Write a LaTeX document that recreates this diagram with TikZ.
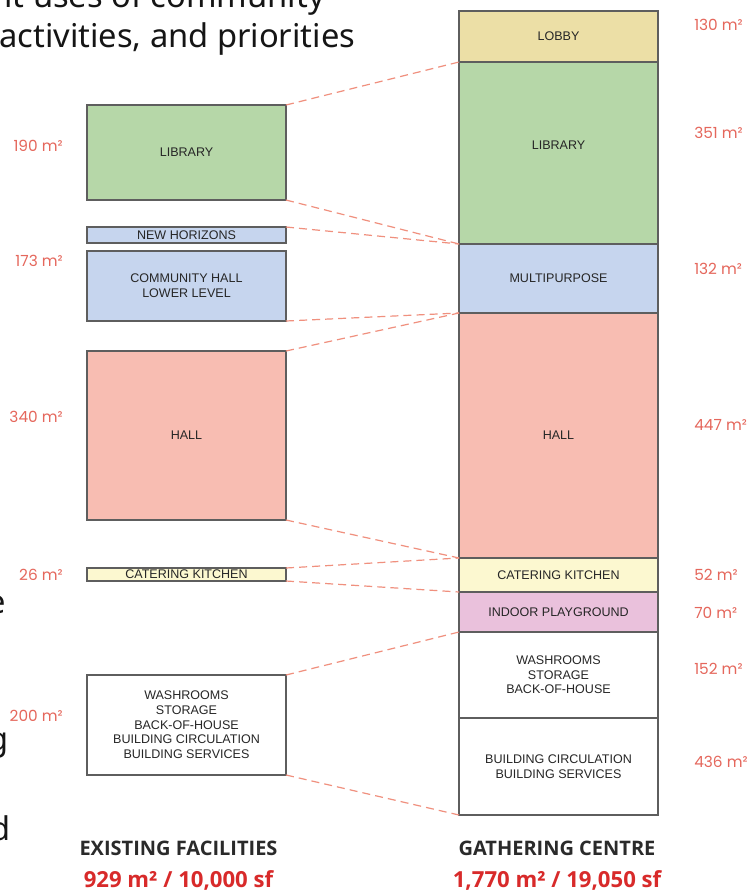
\documentclass[tikz,border=0pt]{standalone}
\usepackage{fontspec}
\setmainfont{Liberation Sans}
\newfontfamily\labfont{Poppins}
\newfontfamily\bodyfont{Noto Sans}
\newfontfamily\titlefont{Open Sans}
\definecolor{boxline}{HTML}{5E5E5E}
\definecolor{txt}{HTML}{262626}
\definecolor{cgreen}{HTML}{B6D7A8}
\definecolor{cblue}{HTML}{C6D5EE}
\definecolor{csalmon}{HTML}{F8BDB2}
\definecolor{cyellow}{HTML}{FCF8D0}
\definecolor{ctan}{HTML}{ECDFA6}
\definecolor{cpink}{HTML}{EAC1DC}
\definecolor{dashc}{HTML}{F0907E}
\definecolor{labred}{HTML}{E5675C}
\definecolor{totred}{HTML}{D82A2A}
\definecolor{titlegray}{HTML}{2A2A2A}
\definecolor{bodyc}{HTML}{151515}
\newcommand{\mkroom}[7]{\node[room, fill=#6, minimum width={(#4-#2)*0.75pt}, minimum height={(#5-#3)*0.75pt}] (#1) at (#2,#3) {#7};}
\tikzset{
  room/.style={draw=boxline, line width=0.9pt, inner sep=0pt, outer sep=0pt,
    font=\fontsize{9.4}{11}\selectfont, text=txt, align=center, anchor=north west},
  roomtext/.style={font=\fontsize{9.4}{11}\selectfont, text=txt, inner sep=0pt},
  conn/.style={draw=dashc, line width=0.9pt, dash pattern=on 6pt off 3.8pt},
  lab/.style={font=\labfont\fontsize{11.5}{13}\selectfont, text=labred, inner sep=0pt},
  title/.style={font=\titlefont\bfseries\fontsize{15}{17}\selectfont, text=titlegray, inner sep=0pt},
  total/.style={font=\titlefont\bfseries\fontsize{16.6}{19}\selectfont, text=totred, inner sep=0pt},
  body/.style={font=\bodyfont\fontsize{24.5}{29}\selectfont, text=bodyc, inner sep=0pt}
}
\begin{document}
\begin{tikzpicture}[x=0.75pt,y=-0.75pt]
\useasboundingbox (0,0) rectangle (753,893);
\clip (0,0) rectangle (753,893);
\fill[white] (0,0) rectangle (753,893);
% body text fragments
\node[body, anchor=base east] (b0) at (325,7) {it uses of community};
\node[body, anchor=base west] (b1) at (-1,47) {activities, and priorities};
\node[body, anchor=base east] (b2) at (6,613) {e};
\node[body, anchor=base east] (b3) at (9,750) {g};
\node[body, anchor=base east] (b4) at (11,840) {d};
% left column
\mkroom{Llib}{87}{105}{286}{200}{cgreen}{LIBRARY}
\mkroom{Lnh}{87}{227}{286}{243}{cblue}{NEW HORIZONS}
\mkroom{Lch}{87}{251}{286}{321}{cblue}{COMMUNITY HALL\\LOWER LEVEL}
\mkroom{Lhall}{87}{351}{286}{520}{csalmon}{HALL}
\mkroom{Lcat}{87}{568}{286}{581}{cyellow}{CATERING KITCHEN}
\mkroom{Lwash}{87}{675}{286}{775}{white}{WASHROOMS\\STORAGE\\BACK-OF-HOUSE\\BUILDING CIRCULATION\\BUILDING SERVICES}
% right column
\mkroom{Rlobby}{459}{11}{658}{62}{ctan}{LOBBY}
\mkroom{Rlib}{459}{62}{658}{244}{cgreen}{}
\node[roomtext] (Rlibtxt) at (558.5,145) {LIBRARY};
\mkroom{Rmulti}{459}{244}{658}{313}{cblue}{MULTIPURPOSE}
\mkroom{Rhall}{459}{313}{658}{558}{csalmon}{HALL}
\mkroom{Rcat}{459}{558}{658}{592}{cyellow}{CATERING KITCHEN}
\mkroom{Rplay}{459}{592}{658}{632}{cpink}{INDOOR PLAYGROUND}
\mkroom{Rwash}{459}{632}{658}{718}{white}{WASHROOMS\\STORAGE\\BACK-OF-HOUSE}
\mkroom{Rcirc}{459}{718}{658}{815}{white}{BUILDING CIRCULATION\\BUILDING SERVICES}
% connectors
\draw[conn] (Llib.north east) -- (Rlib.north west);
\draw[conn] (Llib.south east) -- (Rlib.south west);
\draw[conn] (Lnh.north east) -- (Rlib.south west);
\draw[conn] (Lch.south east) -- (Rhall.north west);
\draw[conn] (Lhall.north east) -- (Rhall.north west);
\draw[conn] (Lhall.south east) -- (Rhall.south west);
\draw[conn] (Lcat.north east) -- (Rcat.north west);
\draw[conn] (Lcat.south east) -- (Rcat.south west);
\draw[conn] (Lwash.north east) -- (Rwash.north west);
\draw[conn] (Lwash.south east) -- (Rcirc.south west);
% left areas
\node[lab, anchor=east] (a1) at (63,146) {190 m²};
\node[lab, anchor=east] (a2) at (63,261) {173 m²};
\node[lab, anchor=east] (a3) at (63,417) {340 m²};
\node[lab, anchor=east] (a4) at (63,575) {26 m²};
\node[lab, anchor=east] (a5) at (63,716) {200 m²};
% right areas
\node[lab, anchor=west] (r1) at (694,25) {130 m²};
\node[lab, anchor=west] (r2) at (694,133) {351 m²};
\node[lab, anchor=west] (r3) at (694,269) {132 m²};
\node[lab, anchor=west] (r4) at (694,425) {447 m²};
\node[lab, anchor=west] (r5) at (694,575) {52 m²};
\node[lab, anchor=west] (r6) at (694,613) {70 m²};
\node[lab, anchor=west] (r7) at (694,669) {152 m²};
\node[lab, anchor=west] (r8) at (694,762) {436 m²};
% titles
\node[title] (t1) at (178.5,848) {EXISTING FACILITIES};
\node[total] (s1) at (178.5,880) {929 m² / 10,000 sf};
\node[title] (t2) at (557,848) {GATHERING CENTRE};
\node[total] (s2) at (557,880) {1,770 m² / 19,050 sf};
\end{tikzpicture}
\end{document}
